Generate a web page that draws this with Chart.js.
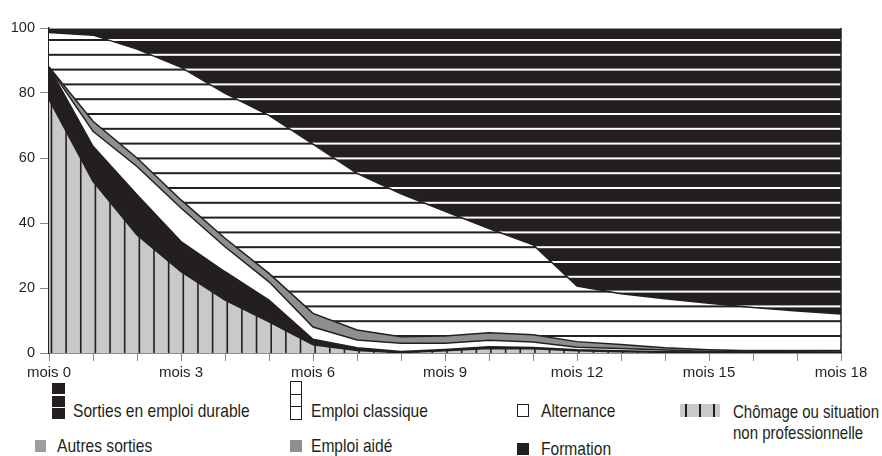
<!DOCTYPE html>
<html>
<head>
<meta charset="utf-8">
<script src="https://cdn.jsdelivr.net/npm/chart.js@4.4.0/dist/chart.umd.min.js"></script>
<style>
  html, body { margin: 0; padding: 0; background: #fff; }
  body { width: 882px; height: 456px; position: relative; overflow: hidden;
         font-family: "Liberation Sans", Arial, sans-serif; color: #231f20; }
  #wrap { position: absolute; left: 0; top: 0; width: 882px; height: 384px; }
  .leg { position: absolute; font-size: 19px; line-height: 20px; white-space: nowrap;
         transform: scaleX(0.82); transform-origin: 0 50%; }
  .box { position: absolute; box-sizing: border-box; }
</style>
</head>
<body>
<div id="wrap"><canvas id="chart" width="882" height="384"></canvas></div>
<div id="legend"></div>
<script>
// Parcours des sortants, en %, du mois 0 au mois 18
const mois = ['mois 0', 'mois 1', 'mois 2', 'mois 3', 'mois 4', 'mois 5', 'mois 6', 'mois 7', 'mois 8', 'mois 9',
              'mois 10', 'mois 11', 'mois 12', 'mois 13', 'mois 14', 'mois 15', 'mois 16', 'mois 17', 'mois 18'];
const chomage         = [78, 52.8, 36.3, 25, 16.3, 9.6, 2.5, 0.8, 0.1, 0.7, 1.4, 1.3, 0.7, 0.4, 0.2, 0.1, 0, 0, 0];
const formation       = [10, 10.8, 12.4, 9.3, 8.7, 6.7, 1.7, 0.8, 0.4, 0.4, 0.5, 0.4, 0.3, 0.3, 0.2, 0.2, 0.1, 0.1, 0.1];
const alternance      = [0, 4.6, 8.7, 10.3, 7.7, 5.6, 3.8, 2.4, 2.5, 1.9, 2.0, 1.7, 0.8, 0.7, 0.5, 0.2, 0.2, 0.1, 0];
const emploiAide      = [0, 3.1, 2.6, 2.5, 2.6, 2.6, 4.2, 3.1, 2.0, 2.2, 2.3, 2.2, 1.7, 1.2, 0.7, 0.5, 0.3, 0.1, 0.1];
const emploiClassique = [10.6, 26.5, 33.5, 40.8, 44.6, 48.6, 52.1, 48.2, 44, 38.4, 32.1, 27.7, 17.1, 15.6, 15.1, 14.3, 13.4, 12.6, 11.8];
const emploiDurable   = [1.4, 2.2, 6.5, 12.1, 20.1, 26.9, 35.7, 44.7, 51, 56.4, 61.7, 66.7, 79.4, 81.8, 83.3, 84.7, 86, 87.1, 88];
const autresSorties   = [0, 0, 0, 0, 0, 0, 0, 0, 0, 0, 0, 0, 0, 0, 0, 0, 0, 0, 0];
const yTicks = [0, 20, 40, 60, 80, 100];

const NOIR = '#231f20';
const GRIS_CLAIR = '#c7c9cb';
const GRIS = '#8d8e90';
const POLICE = '"Liberation Sans", Arial, sans-serif';

// Motif à rayures horizontales (ancré sur le canvas, pour que les rayures se raccordent)
function motifHorizontal(fond, trait) {
  const c = document.createElement('canvas');
  c.width = 882; c.height = 384;
  const g = c.getContext('2d');
  g.fillStyle = fond; g.fillRect(0, 0, c.width, c.height);
  g.fillStyle = trait;
  for (let y = 10.4; y < c.height; y += 14.8) g.fillRect(0, y - 1, c.width, 2);
  return g.createPattern(c, 'no-repeat');
}

// Motif à rayures verticales (chômage)
function motifVertical(fond, trait) {
  const c = document.createElement('canvas');
  c.width = 882; c.height = 384;
  const g = c.getContext('2d');
  g.fillStyle = fond; g.fillRect(0, 0, c.width, c.height);
  g.fillStyle = trait;
  for (let x = 7.5; x < c.width; x += 14.65) g.fillRect(x - 0.8, 0, 1.6, c.height);
  return g.createPattern(c, 'no-repeat');
}

// Cadre : bord droit noir et bord haut gris
const cadre = {
  id: 'cadre',
  afterDatasetsDraw(chart) {
    const { ctx, chartArea: a } = chart;
    ctx.save();
    ctx.strokeStyle = '#9a9a9a'; ctx.lineWidth = 1;
    ctx.beginPath(); ctx.moveTo(a.left, a.top + 0.5); ctx.lineTo(a.right, a.top + 0.5); ctx.stroke();
    ctx.strokeStyle = NOIR; ctx.lineWidth = 1.5;
    ctx.beginPath(); ctx.moveTo(a.right, a.top); ctx.lineTo(a.right, a.bottom); ctx.stroke();
    ctx.restore();
  }
};

const chart = new Chart(document.getElementById('chart'), {
  type: 'line',
  data: {
    labels: mois,
    datasets: [
      { label: 'Chômage ou situation non professionnelle', data: chomage, backgroundColor: motifVertical(GRIS_CLAIR, NOIR), fill: 'origin' },
      { label: 'Formation', data: formation, backgroundColor: NOIR, fill: '-1' },
      { label: 'Alternance', data: alternance, backgroundColor: '#ffffff', fill: '-1' },
      { label: 'Emploi aidé', data: emploiAide, backgroundColor: GRIS, fill: '-1' },
      { label: 'Emploi classique', data: emploiClassique, backgroundColor: motifHorizontal('#ffffff', NOIR), fill: '-1' },
      { label: 'Sorties en emploi durable', data: emploiDurable, backgroundColor: motifHorizontal(NOIR, '#ffffff'), fill: '-1' },
      { label: 'Autres sorties', data: autresSorties, backgroundColor: '#9d9d9d', fill: '-1', borderWidth: 0 }
    ]
  },
  options: {
    responsive: false,
    animation: false,
    layout: { padding: { top: 28, right: 41, left: 0, bottom: 0 } },
    elements: {
      line: { borderColor: NOIR, borderWidth: 1.5, tension: 0 },
      point: { radius: 0, hoverRadius: 0 }
    },
    plugins: { legend: { display: false }, tooltip: { enabled: false } },
    scales: {
      x: {
        grid: { drawOnChartArea: false, drawTicks: true, tickLength: 8, color: '#8a8a8a' },
        border: { display: true, color: NOIR, width: 1.5 },
        ticks: {
          autoSkip: false, maxRotation: 0, padding: 3, color: NOIR,
          font: { family: POLICE, size: 15 },
          callback: function(v, i) { return i % 3 === 0 ? this.getLabelForValue(v) : ''; }
        },
        afterFit: s => { s.height = 31; }
      },
      y: {
        stacked: true,
        min: 0, max: 100,
        afterBuildTicks: s => { s.ticks = yTicks.map(v => ({ value: v })); },
        grid: { drawOnChartArea: false, drawTicks: true, tickLength: 9, color: '#8a8a8a' },
        border: { display: true, color: NOIR, width: 1.5 },
        ticks: { padding: 5, color: NOIR, font: { family: POLICE, size: 14.5 } },
        afterFit: s => { s.width = 49; }
      }
    }
  },
  plugins: [cadre]
});

// Légende HTML (disposition du document source)
const legendPlaces = [
  { ds: 5, left: 73,  top: 401, icone: 'durable',    ix: 52,  iy: 383 },
  { ds: 4, left: 311, top: 401, icone: 'classique',  ix: 290, iy: 381 },
  { ds: 2, left: 541, top: 401, icone: 'blanc',      ix: 517, iy: 404 },
  { ds: 0, left: 733, top: 401, icone: 'chomage',    ix: 680, iy: 404 },
  { ds: 6, left: 57,  top: 436, icone: 'grisClair',  ix: 35,  iy: 440 },
  { ds: 3, left: 311, top: 436, icone: 'gris',       ix: 290, iy: 440 },
  { ds: 1, left: 541, top: 439, icone: 'noir',       ix: 517, iy: 443 }
];

const legend = document.getElementById('legend');
function boite(x, y, w, h, css) {
  const d = document.createElement('div');
  d.className = 'box';
  d.style.cssText = `left:${x}px;top:${y}px;width:${w}px;height:${h}px;` + css;
  legend.appendChild(d);
}
legendPlaces.forEach(p => {
  const label = chart.data.datasets[p.ds].label;
  const t = document.createElement('div');
  t.className = 'leg';
  t.style.left = p.left + 'px';
  t.style.top = p.top + 'px';
  if (p.ds === 0) {
    t.innerHTML = 'Chômage ou situation<br>non professionnelle';
    t.style.lineHeight = '21px';
    t.style.transform = 'scaleX(0.79)';
    t.style.transformOrigin = '0 10px';
  } else {
    t.textContent = label;
  }
  legend.appendChild(t);

  if (p.icone === 'durable') {
    for (let k = 0; k < 3; k++) boite(p.ix, p.iy + k * 12.5, 13, 11, `background:${NOIR};`);
  } else if (p.icone === 'classique') {
    for (let k = 0; k < 3; k++) boite(p.ix, p.iy + k * 12.5, 12, 13.5, `background:#fff;border:1px solid ${NOIR};`);
  } else if (p.icone === 'blanc') {
    boite(p.ix, p.iy, 12, 13, `background:#fff;border:1px solid ${NOIR};`);
  } else if (p.icone === 'chomage') {
    boite(p.ix, p.iy, 40, 13, `background:repeating-linear-gradient(90deg, ${GRIS_CLAIR} 0 5px, ${NOIR} 5px 7px, ${GRIS_CLAIR} 7px 14px);`);
  } else if (p.icone === 'grisClair') {
    boite(p.ix, p.iy, 11, 12, 'background:#9d9d9d;');
  } else if (p.icone === 'gris') {
    boite(p.ix, p.iy, 12, 12, `background:${GRIS};`);
  } else {
    boite(p.ix, p.iy, 12, 12, `background:${NOIR};`);
  }
});
</script>
</body>
</html>
